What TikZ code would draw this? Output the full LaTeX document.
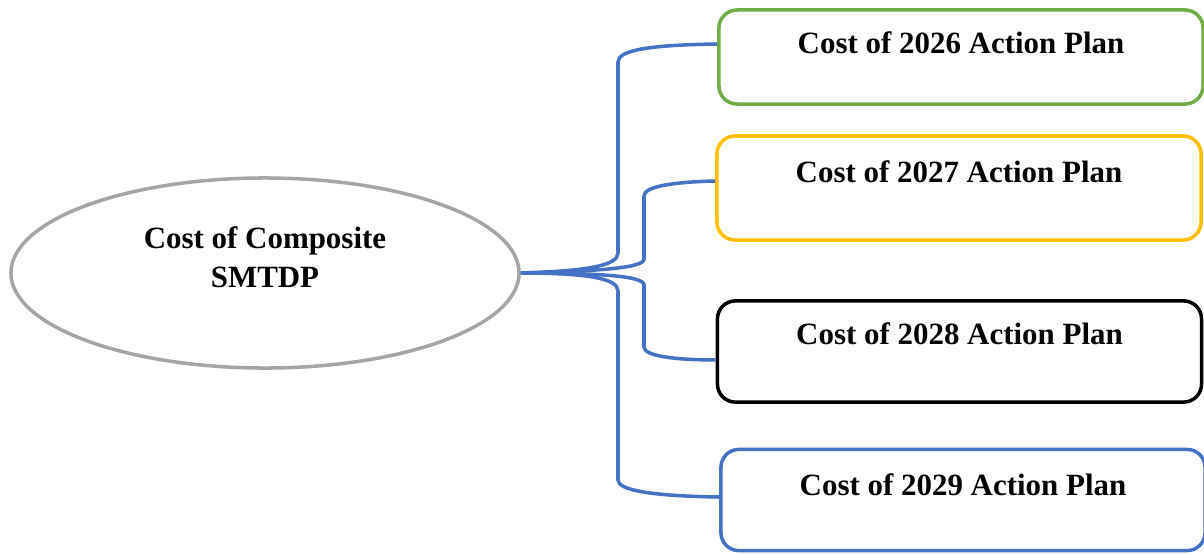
\documentclass[tikz,border=0pt]{standalone}
\usepackage{fontspec}
\setmainfont{Liberation Serif}
\usetikzlibrary{shapes.geometric,calc}
\definecolor{cpInk}{HTML}{000000}
\definecolor{cpGrey}{HTML}{A5A5A5}
\definecolor{cpGreen}{HTML}{70AD47}
\definecolor{cpAmber}{HTML}{FFC000}
\definecolor{cpBlue}{HTML}{4472C4}
\tikzset{
  every node/.style={text=cpInk},
  coreOval/.style={ellipse, draw=cpGrey, fill=white, line width=2.5pt,
    minimum width=12.7cm, minimum height=4.75cm, inner sep=0pt},
  planCard/.style={rectangle, rounded corners=0.45cm, fill=white,
    line width=2.5pt, minimum width=12.1cm, inner sep=0pt},
  cardText/.style={font=\fontsize{22}{27.7}\selectfont\bfseries,
    align=center, inner sep=0pt},
  branch/.style={draw=cpBlue, line width=2.5pt, line join=round},
}

\begin{document}
\begin{tikzpicture}[x=0.025cm,y=-0.025cm]
  \useasboundingbox (0,0) rectangle (1204,554);

  % Composite total on the left.
  \node[coreOval] (core) at (265,273) {};
  \node[cardText] (coreText) at ([yshift=0.40cm]core.center)
    {Cost of Composite\\SMTDP};

  % One card per yearly action plan.
  \node[planCard, draw=cpGreen, minimum height=2.35cm] (c26) at (961,57) {};
  \node[cardText] (t26) at ([yshift=0.35cm]c26.center)
    {Cost of 2026 Action Plan};
  \node[planCard, draw=cpAmber, minimum height=2.6cm] (c27) at (959,188) {};
  \node[cardText] (t27) at ([yshift=0.40cm]c27.center)
    {Cost of 2027 Action Plan};
  \node[planCard, draw=cpInk, minimum height=2.53cm] (c28) at (959.5,351.5) {};
  \node[cardText] (t28) at ([yshift=0.44cm]c28.center)
    {Cost of 2028 Action Plan};
  \node[planCard, draw=cpBlue, minimum height=2.53cm] (c29) at (963,500) {};
  \node[cardText] (t29) at ([yshift=0.375cm]c29.center)
    {Cost of 2029 Action Plan};

  % Brace-like branches from the oval.
  \draw[branch] (core.east) .. controls (585,271) and (618,266) .. (618,253)
    -- (618,62) .. controls (618,50) and (650,45) .. ([yshift=0.325cm]c26.west);
  \draw[branch] (core.east) .. controls (600,271) and (644,268) .. (644,259)
    -- (644,196) .. controls (644,186) and (675,182) .. ([yshift=0.175cm]c27.west);
  \draw[branch] (core.east) .. controls (600,273) and (644,276) .. (644,285)
    -- (644,347) .. controls (644,356) and (675,360) .. ([yshift=-0.21cm]c28.west);
  \draw[branch] (core.east) .. controls (585,273) and (618,278) .. (618,291)
    -- (618,480) .. controls (618,490) and (650,496) .. ([yshift=0.075cm]c29.west);
\end{tikzpicture}
\end{document}
